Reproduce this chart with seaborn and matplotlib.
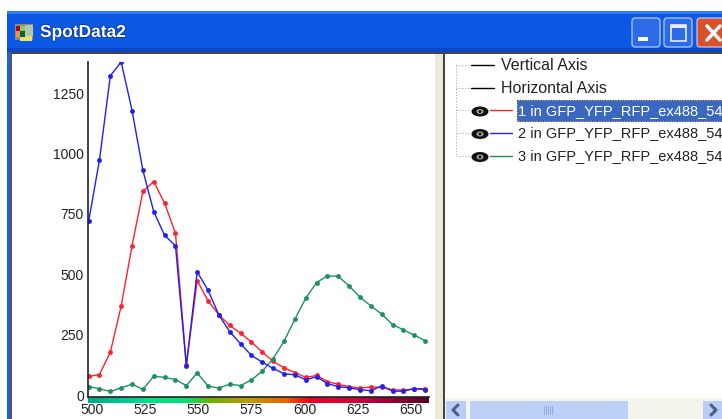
import numpy as np
import matplotlib
matplotlib.use("Agg")
import matplotlib.pyplot as plt
import matplotlib.patheffects as pe
from matplotlib.colors import LinearSegmentedColormap
from matplotlib.patches import Rectangle, FancyBboxPatch, Ellipse
import seaborn as sns

wavelengths = [498.5, 503.6, 508.7, 513.8, 518.9, 524.0, 529.1, 534.2, 539.3, 544.4, 549.5,
               554.6, 559.7, 564.8, 569.9, 575.0, 580.1, 585.2, 590.3, 595.4, 600.5, 605.6,
               610.7, 615.8, 620.9, 626.0, 631.1, 636.2, 641.3, 646.4, 651.5, 656.6]
spot1 = [83, 91, 184, 375, 625, 849, 890, 800, 675, 130, 480, 396, 338, 294, 262, 225,
         184, 145, 119, 99, 79, 87, 62, 50, 41, 35, 39, 38, 28, 26, 32, 33]
spot2 = [725, 980, 1328, 1385, 1184, 936, 765, 667, 624, 128, 516, 440, 337, 268, 218, 170,
         142, 116, 94, 90, 69, 82, 53, 41, 36, 28, 24, 44, 22, 22, 33, 28]
spot3 = [41, 32, 21, 36, 51, 29, 84, 79, 70, 45, 98, 43, 35, 51, 45, 69,
         105, 157, 229, 320, 407, 472, 500, 497, 458, 411, 375, 341, 298, 276, 254, 231]

x_ticks = [500, 525, 550, 575, 600, 625, 650]
y_ticks = [0, 250, 500, 750, 1000, 1250]
tree_labels = ["Vertical Axis", "Horizontal Axis"]
spot_labels = ["1 in GFP_YFP_RFP_ex488_54", "2 in GFP_YFP_RFP_ex488_54", "3 in GFP_YFP_RFP_ex488_54"]
spot_colors = ["#ff2030", "#2020f0", "#209060"]
title = "SpotData2"

W, H = 722, 419
sns.set_theme(style="white")
plt.rcParams["font.family"] = ["Liberation Sans", "DejaVu Sans"]

fig = plt.figure(figsize=(W / 100, H / 100), dpi=100)
fig.patch.set_facecolor("white")

# window chrome, drawn in pixel coordinates
bg = fig.add_axes([0, 0, 1, 1], zorder=0)
bg.set_xlim(0, W)
bg.set_ylim(H, 0)
bg.axis("off")

def box(x0, y0, x1, y1, color):
    bg.add_patch(Rectangle((x0, y0), x1 - x0, y1 - y0, fc=color, ec="none"))

box(7, 11, W, 52, "#0a58e4")
box(7, 11, W, 14, "#2f7df5")
box(7, 48, W, 52, "#0848c8")
box(7, 52, 11, H, "#1a62e8")
box(10, 52, W, H, "#ece9d8")
box(10, 52, W, 54, "#444444")
box(10, 52, 12, H, "#555555")
box(12, 54, 435, H, "white")
box(443, 52, 445, H, "#444444")
box(445, 54, W, H, "white")

# title bar
box(15, 24, 33, 40, "#8a8f70")
bg.imshow(np.array([[0.1, 0.7], [0.3, 0.9]]), cmap="RdYlGn", extent=(16, 25, 37, 26), aspect="auto", zorder=2)
box(25, 25, 33, 36, "#b0c8a8")
box(20, 36, 32, 41, "#f0e060")
bg.set_xlim(0, W)
bg.set_ylim(H, 0)
bg.text(40, 32.5, title, color="white", fontsize=12.5, fontweight="bold", va="center", ha="left",
        path_effects=[pe.withStroke(linewidth=1.2, foreground="#0a3aa0")])
for x0, x1, col in [(632, 660, "#2c6ae8"), (664, 692, "#2c6ae8"), (697, 730, "#d9512b")]:
    bg.add_patch(FancyBboxPatch((x0 + 2, 20), x1 - x0 - 4, 25, boxstyle="round,pad=2,rounding_size=3",
                                fc=col, ec="#c8d8f8", lw=0.8))
box(638, 37, 648, 41, "white")
bg.add_patch(Rectangle((671, 25), 15, 16, fc="none", ec="#e8eefc", lw=1.2))
box(671, 25, 686, 28, "#e8eefc")
bg.plot([707, 720], [26, 40], color="white", lw=2.5)
bg.plot([720, 707], [26, 40], color="white", lw=2.5)

# tree on the right
rows = [65.5, 88, 110.5, 133, 156]
bg.plot([456, 456], [65, 156], color="#aaaaaa", lw=0.8, ls=":")
for y in rows:
    bg.plot([456, 470], [y, y], color="#aaaaaa", lw=0.8, ls=":")
for y, label in zip(rows[:2], tree_labels):
    bg.plot([471, 494], [y, y], color="black", lw=1.0)
    bg.text(501, y + 0.5, label, fontsize=11.5, color="#222222", va="center", ha="left")
bg.add_patch(Rectangle((517, 100), W - 517, 21, fc="#3a68c0", ec="#222222", lw=0.7, ls=":"))
for y, label, col, txt in zip(rows[2:], spot_labels, spot_colors, ["white", "#222222", "#222222"]):
    bg.add_patch(Ellipse((480, y + 1), 17, 10, fc="#111111", ec="none"))
    bg.add_patch(Ellipse((480, y + 1), 7, 5, fc="#aaaaaa", ec="none"))
    bg.add_patch(Ellipse((480, y + 1), 3, 3, fc="#111111", ec="none"))
    bg.plot([490, 512], [y, y], color=col, lw=1.0)
    bg.text(518, y + 0.5, label, fontsize=10.5, color=txt, va="center", ha="left")

# scroll bar
box(445, 398, W, H, "#f4f3ec")
box(446, 401, 466, H, "#b9cdf6")
box(470, 401, 628, H, "#bcd0f8")
box(703, 401, W, H, "#b9cdf6")
bg.plot([458, 453, 458], [405, 410, 415], color="#4d6185", lw=2.2)
bg.plot([711, 716, 711], [405, 410, 415], color="#4d6185", lw=2.2)
for gx in [544, 546, 548, 550, 552]:
    bg.plot([gx, gx], [406, 414], color="#8fa6d6", lw=0.6)

# plot area
x_min, x_max = 498.2, 658.4
left, right, top, bottom = 88, 429, 62, 396.5

bar = fig.add_axes([left / W, 1 - 403 / H, (right - left) / W, 6 / H], zorder=1)
spectrum = LinearSegmentedColormap.from_list("spectrum", [
    (0.0, "#00a888"), (0.17, "#00e090"), (0.29, "#00e070"), (0.36, "#70b000"),
    (0.48, "#c09a00"), (0.58, "#f06000"), (0.65, "#f00020"), (0.80, "#c80040"), (1.0, "#5a0020")])
bar.imshow(np.linspace(0, 1, 256)[None, :], cmap=spectrum, aspect="auto", extent=(x_min, x_max, 0, 1))
bar.axis("off")

ax = fig.add_axes([left / W, 1 - bottom / H, (right - left) / W, (bottom - top) / H], zorder=2)
ax.patch.set_alpha(0)
for vals, col in zip([spot1, spot3, spot2], [spot_colors[0], spot_colors[2], spot_colors[1]]):
    sns.lineplot(x=wavelengths, y=vals, color=col, marker="o", markersize=3.5, markeredgewidth=0,
                 linewidth=1.0, errorbar=None, ax=ax)
ax.set_xlim(x_min, x_max)
ax.set_ylim(0, 1385)
ax.set_xticks(x_ticks)
ax.set_yticks(y_ticks)
ax.tick_params(axis="x", length=4, width=1, color="black", pad=0.5, labelsize=10, labelcolor="#222222", direction="out")
ax.tick_params(axis="y", length=0, pad=3, labelsize=10, labelcolor="#222222")
for lab in ax.get_yticklabels():
    lab.set_verticalalignment("center")
ax.spines["top"].set_visible(False)
ax.spines["right"].set_visible(False)
ax.spines["left"].set_linewidth(1.2)
ax.spines["bottom"].set_linewidth(1.2)
ax.spines["left"].set_color("#222222")
ax.spines["bottom"].set_color("#222222")
ax.grid(False)

fig.savefig("out.png", dpi=100)
